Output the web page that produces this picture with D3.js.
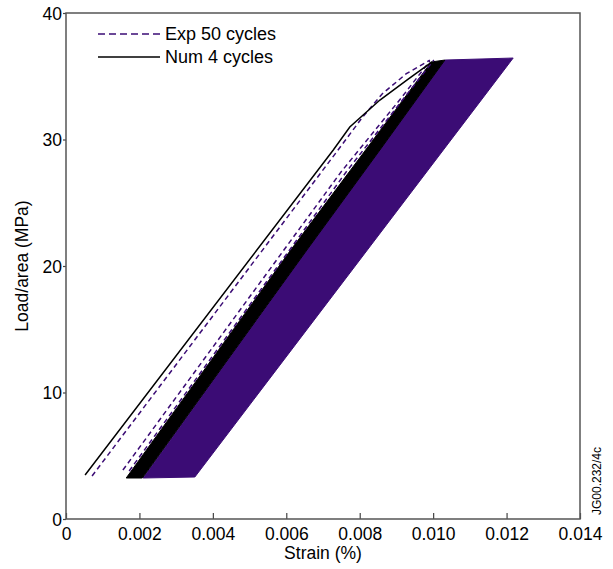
<!DOCTYPE html>
<html>
<head>
<meta charset="utf-8">
<script src="https://cdn.jsdelivr.net/npm/d3@7"></script>
<style>
html,body{margin:0;padding:0;background:#fff;}
svg{display:block;font-family:"Liberation Sans",Arial,sans-serif;}
</style>
</head>
<body>
<svg id="chart" width="613" height="569"></svg>
<script>
// ---- data (strain, load/area in MPa) ----
const xTicks = [0, 0.002, 0.004, 0.006, 0.008, 0.010, 0.012, 0.014];
const yTicks = [0, 10, 20, 30, 40];
const legendLabels = ["Exp 50 cycles", "Num 4 cycles"];

// Numerical first loading (solid black)
const numFirst = [[0.00052,3.48],[0.00728,29.17],[0.00773,30.99],[0.00855,33.12],[0.00932,34.78],[0.00997,36.13]];
// Numerical later cycles (dense black band): left edge up, right edge down
const numBandLeft  = [[0.00164,3.24],[0.00612,21.26],[0.00816,29.17],[0.00995,36.13]];
const numBandRight = [[0.01032,36.28],[0.00855,29.17],[0.00656,21.26],[0.00208,3.24]];
// Experimental first cycles (dashed purple)
const expCycle1 = [[0.00071,3.40],[0.00741,29.17],[0.00806,31.70],[0.00861,33.60],[0.00926,35.18],[0.00991,36.28]];
const expCycle2 = [[0.00155,3.87],[0.00749,27.43],[0.00913,33.28],[0.00991,36.20]];
const expCycle3 = [[0.00172,3.79],[0.00763,27.43],[0.00923,33.36],[0.01002,36.28]];
// Experimental 50-cycle envelope (filled purple)
const expBand = [[0.00210,3.24],[0.00351,3.32],[0.01218,36.44],[0.01032,36.28],[0.00855,29.17],[0.00656,21.26]];

// ---- layout ----
const svg = d3.select("#chart");
const m = {left:66, right:580, top:13, bottom:519};
const x = d3.scaleLinear().domain([0, 0.014]).range([m.left, m.right]);
const y = d3.scaleLinear().domain([0, 40]).range([m.bottom, m.top]);
const purple = "#3b0c75";
const FS = 17.5;

const line = d3.line().x(d => x(d[0])).y(d => y(d[1]));

svg.append("clipPath").attr("id","clip").append("rect")
  .attr("x", m.left).attr("y", m.top).attr("width", m.right-m.left).attr("height", m.bottom-m.top);
const g = svg.append("g").attr("clip-path","url(#clip)");

// purple envelope
g.append("path").attr("d", line(expBand) + "Z").attr("fill", purple).attr("stroke", purple).attr("stroke-width", 1);
// black band
g.append("path").attr("d", line(numBandLeft.concat(numBandRight)) + "Z").attr("fill", "#000").attr("stroke", "#000").attr("stroke-width", 1);

// dashed exp cycles
[expCycle1, expCycle2, expCycle3].forEach(c => {
  g.append("path").attr("d", line(c)).attr("fill","none")
    .attr("stroke", purple).attr("stroke-width", 1.5).attr("stroke-dasharray","5,3.5");
});
// numerical first loading
g.append("path").attr("d", line(numFirst)).attr("fill","none").attr("stroke","#000").attr("stroke-width",1.5);

// ---- axes ----
const xAxis = d3.axisBottom(x).tickValues(xTicks).tickSizeInner(-6).tickSizeOuter(0).tickPadding(9)
  .tickFormat(d => d === 0 ? "0" : d3.format(".3f")(d));
const gx = svg.append("g").attr("transform", `translate(0,${m.bottom})`).call(xAxis);
const yAxis = d3.axisLeft(y).tickValues(yTicks).tickSizeInner(3).tickSizeOuter(0).tickPadding(1);
const gy = svg.append("g").attr("transform", `translate(${m.left},0)`).call(yAxis);
[gx, gy].forEach(a => {
  a.selectAll("text").attr("font-size", FS).attr("fill", "#000").attr("font-family", '"Liberation Sans",Arial,sans-serif');
  a.selectAll("line").attr("stroke", "#444").attr("stroke-width", 1.2);
  a.select(".domain").remove();
});
gy.selectAll("text").attr("dy", "0.35em");

// frame
svg.append("rect").attr("x", m.left).attr("y", m.top).attr("width", m.right-m.left).attr("height", m.bottom-m.top)
  .attr("fill","none").attr("stroke","#555").attr("stroke-width",1.5);

// axis titles
svg.append("text").attr("x", (m.left+m.right)/2).attr("y", 559).attr("text-anchor","middle")
  .attr("font-size",FS).text("Strain (%)");
svg.append("text").attr("transform", `translate(28,${(m.top+m.bottom)/2}) rotate(-90)`).attr("text-anchor","middle")
  .attr("font-size",FS).text("Load/area (MPa)");

// side reference
svg.append("text").attr("transform", `translate(601,515) rotate(-90)`).attr("text-anchor","start")
  .attr("font-size",12).text("JG00.232/4c");

// legend
const leg = svg.append("g");
legendLabels.forEach((lab, i) => {
  const yy = 34 + i*23;
  leg.append("line").attr("x1", 98).attr("x2", 160).attr("y1", yy).attr("y2", yy)
    .attr("stroke", i === 0 ? purple : "#000").attr("stroke-width", 1.5)
    .attr("stroke-dasharray", i === 0 ? "7,4" : null);
  leg.append("text").attr("x", 165).attr("y", yy).attr("dy","0.35em").attr("font-size",18).text(lab);
});
</script>
</body>
</html>
